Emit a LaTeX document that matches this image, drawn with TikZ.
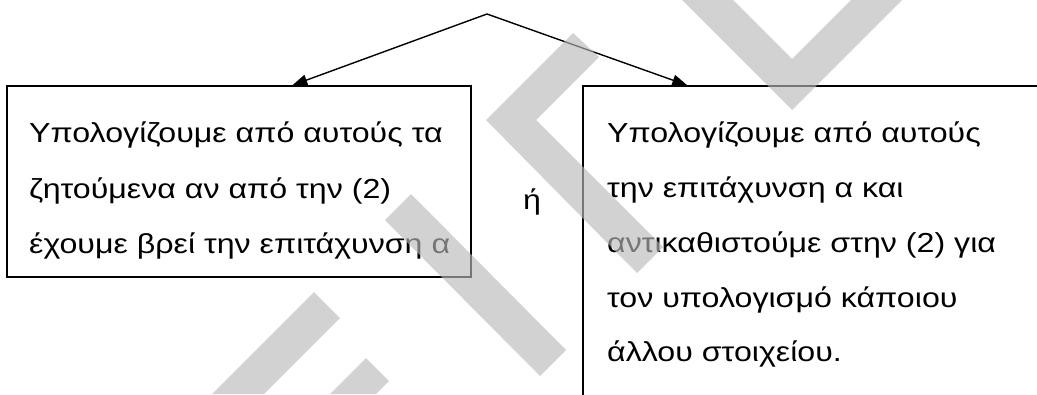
\documentclass[tikz,border=0pt]{standalone}
\usepackage{fontspec}
\setmainfont{Liberation Sans}[FakeStretch=1.17]
\usetikzlibrary{arrows.meta}
\begin{document}
\begin{tikzpicture}[x=1pt,y=-1pt,
  box/.style={draw, line width=1.4pt, inner sep=0pt},
  txt/.style={anchor=base west, inner sep=0pt, font=\fontsize{27.5}{30}\selectfont},
  link/.style={line width=1.4pt, -{Triangle[length=15pt,width=11pt]}},
  wm/.style={fill=black!27, fill opacity=0.64, draw=none}]
\clip (0,0) rectangle (1037,394);
\fill[white] (0,0) rectangle (1037,394);

% the two boxes (the right one runs past the edge)
\node[box, minimum width=464pt, minimum height=191pt] (lbox) at (239,181.5) {};
\node[box, minimum width=500pt, minimum height=400pt] (rbox) at (833,286) {};

% arrows from the common point
\coordinate (apex) at (487,14);
\draw[link] (apex) -- ([xshift=286pt]lbox.north west);
\draw[link] (apex) -- ([xshift=105pt]rbox.north west);

% left box text
\node[txt] (l1) at (29,142) {Υπολογίζουμε από αυτούς τα};
\node[txt] (l2) at (29,198) {ζητούμενα αν από την (2)};
\node[txt] (l3) at (29,253) {έχουμε βρεί την επιτάχυνση α};

% the "or" between the boxes
\node[txt] (or) at (523,209) {ή};

% right box text
\node[txt] (r1) at (607,142) {Υπολογίζουμε από αυτούς};
\node[txt] (r2) at (607,197) {την επιτάχυνση α και};
\node[txt] (r3) at (607,252) {αντικαθιστούμε στην (2) για};
\node[txt] (r4) at (607,307) {τον υπολογισμό κάποιου};
\node[txt] (r5) at (607,361) {άλλου στοιχείου.};

% grey watermark strokes laid over the page
\fill[wm] (314,292) -- (340,318) -- (264,394) -- (212,394) -- cycle;
\fill[wm] (366,358) -- (389,381) -- (376,394) -- (330,394) -- cycle;
\fill[wm] (385,220) -- (411,194) -- (566,350) -- (540,376) -- cycle;
\fill[wm] (573,33) -- (486,120) -- (637,273) -- (663,247) -- (536,120) -- (599,57) -- cycle;
\fill[wm] (682,0) -- (733,0) -- (792,59) -- (851,0) -- (902,0) -- (792,110) -- cycle;
\end{tikzpicture}
\end{document}
